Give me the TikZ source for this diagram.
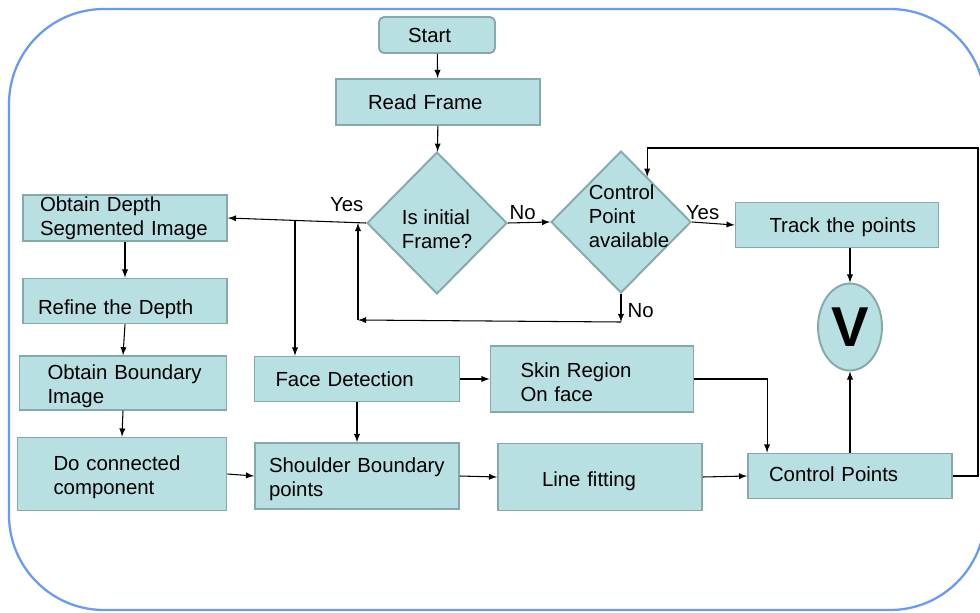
\documentclass[tikz,border=0pt]{standalone}
\usepackage{fontspec}
\setmainfont{Liberation Sans}
\usepackage{tikz}
\usetikzlibrary{positioning,shapes,arrows}

\definecolor{boxfill}{HTML}{B8DFE2}
\definecolor{boxline}{HTML}{86A9AB}
\definecolor{frameblue}{HTML}{6A9BF2}

\begin{document}
\begin{tikzpicture}[x=0.02cm, y=-0.02cm,
    font=\fontsize{11.6}{13.6}\selectfont,
    >=latex,
    box/.style={draw=boxline, fill=boxfill, line width=1.1pt,
                inner xsep=0pt, inner ysep=1pt, align=left},
    pad/.style={execute at begin node={\leftskip=#1\relax}},
    decision/.style={diamond, draw=boxline, fill=boxfill, line width=1.1pt,
                minimum width=2.8cm, minimum height=2.84cm, inner sep=0pt},
    dtext/.style={align=left, inner sep=0pt},
    view/.style={ellipse, draw=boxline, fill=boxfill, line width=1.1pt,
                minimum width=1.28cm, minimum height=1.74cm, inner sep=0pt,
                font=\bfseries\fontsize{32}{32}\selectfont},
    arr/.style={->, line width=0.6pt},
    lbl/.style={inner sep=1.5pt}]

% ── Frame (units are pixels of the 980x612 page) ─────────────
\useasboundingbox (0,0) rectangle (980,612);
\draw[frameblue, line width=1.3pt, rounded corners=1.9cm] (9,9) rectangle (985,610);

% ── Top of the chart ─────────────────────────────────────────
\node[box, text width=2.32cm, minimum height=0.72cm, pad=0.58cm,
      rounded corners=0.1cm] (start) at (437,35) {Start};
\node[box, text width=4.08cm, minimum height=0.92cm, pad=0.64cm] (read) at (438,102) {Read Frame};

\node[decision, label={[dtext, yshift=-0.12cm]center:{Is initial\\Frame?}}] (init) at (437,223) {};
\node[decision, label={[dtext, xshift=0.16cm, yshift=0.12cm]center:{Control\\Point\\available}}] (cpa) at (621,222) {};

\node[box, text width=4.06cm, minimum height=0.90cm, pad=0.68cm, text height=10.5pt] (track) at (837,225) {Track the points};
\node[view] (vv) at (850,327) {V};

% ── Depth column ─────────────────────────────────────────────
\node[box, text width=4.08cm, minimum height=0.92cm, pad=0.34cm] (obd) at (125,218) {Obtain Depth\\Segmented Image};
\node[box, text width=4.08cm, minimum height=0.90cm, pad=0.30cm, text height=18pt] (ref) at (125,301) {Refine the Depth};
\node[box, text width=4.14cm, minimum height=1.06cm, pad=0.56cm, text height=12.5pt] (obi) at (123,383) {Obtain Boundary\\Image};
\node[box, text width=4.18cm, minimum height=1.46cm, pad=0.72cm, text height=12pt] (dcc) at (122,474) {Do connected\\component};

% ── Face and shoulder rows ───────────────────────────────────
\node[box, text width=4.10cm, minimum height=0.90cm, pad=0.42cm] (face) at (357,379) {Face Detection};
\node[box, text width=4.08cm, minimum height=1.32cm, pad=0.28cm, text height=12pt] (sbp) at (357,476) {Shoulder Boundary\\points};
\node[box, text width=4.06cm, minimum height=1.32cm, pad=0.60cm, text height=12.5pt] (skin) at (592,379) {Skin Region\\On face};
\node[box, text width=4.08cm, minimum height=1.34cm, pad=0.88cm, text height=13pt] (line) at (600,477) {Line fitting};
\node[box, text width=4.08cm, minimum height=0.90cm, pad=0.42cm, text depth=2pt] (ctrl) at (850,476) {Control Points};

% ── Helper points for bent connectors ────────────────────────
\coordinate (ysplit) at (295,221);
\coordinate (nodown) at (621,322);
\coordinate (noleft) at (358,320);
\coordinate (rtop)   at (978,148);

% ── Connectors ───────────────────────────────────────────────
\draw[arr] (start) -- (read);
\draw[arr] (read) -- (init);
\draw[arr] (init.west) -- (obd.east) node[lbl, above=4pt, pos=0.14] {Yes};
\draw[arr] (ysplit) -- (ysplit |- face.north);
\draw[arr] (init.east) -- (cpa.west) node[lbl, above, pos=0.35] {No};
\draw[arr] (cpa.east) -- (track.west) node[lbl, above, pos=0.25] {Yes};
\draw[arr] (cpa.south) -- (nodown) node[lbl, right=2pt, pos=0.6] {No};
\draw[arr] (nodown) -- (noleft);
\draw[arr] (noleft) -- (noleft |- init.west);

\draw[arr] (vv |- track.south) -- (vv);
\draw[arr] (ctrl) -- (vv);
\draw[arr] (ctrl.east) -| (rtop) -| (cpa.60);

\draw[arr] (obd.south) -- (ref.north);
\draw[arr] (ref.south) -- (obi.north);
\draw[arr] (obi.south) -- (dcc.north);
\draw[arr] (dcc.east) -- (sbp.west);
\draw[arr] (face.south) -- (sbp.north);
\draw[arr] (face.east) -- (skin.west);
\draw[arr] (sbp.east) -- (line.west);
\draw[arr] (line.east) -- (ctrl.west);
\draw[arr] (skin.east) -| ([xshift=0.4cm]ctrl.north west);

\end{tikzpicture}
\end{document}
